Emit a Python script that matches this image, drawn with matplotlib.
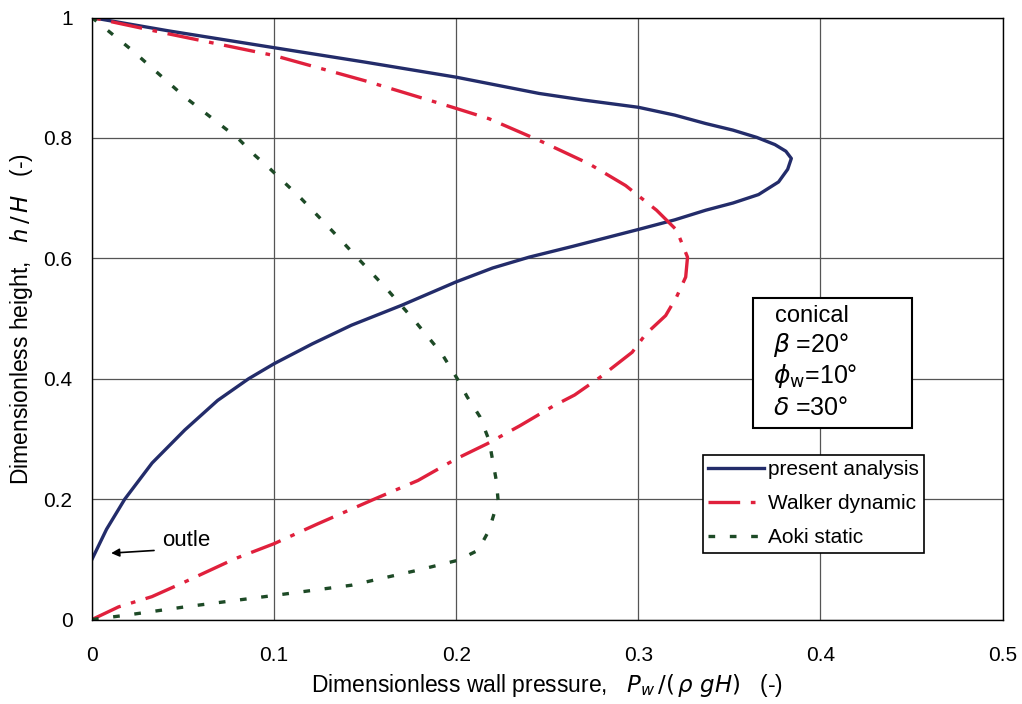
import matplotlib
matplotlib.use("Agg")
import matplotlib.pyplot as plt
from matplotlib.patches import Rectangle

plt.rcParams["font.family"] = ["Liberation Sans", "DejaVu Sans"]
plt.rcParams["mathtext.fontset"] = "dejavusans"

# present analysis (bottom -> top)
present_x = [0.0, 0.008, 0.018, 0.033, 0.051, 0.069, 0.086, 0.100, 0.121, 0.1425,
             0.170, 0.200, 0.220, 0.240, 0.264, 0.300, 0.320, 0.337, 0.352, 0.366,
             0.377, 0.382, 0.384, 0.381, 0.375, 0.365, 0.352, 0.337, 0.320, 0.300,
             0.270, 0.2455, 0.200, 0.150, 0.100, 0.042, 0.0]
present_y = [0.10, 0.15, 0.20, 0.26, 0.315, 0.364, 0.400, 0.425, 0.458, 0.489,
             0.522, 0.561, 0.584, 0.602, 0.620, 0.648, 0.664, 0.680, 0.692, 0.706,
             0.727, 0.748, 0.766, 0.778, 0.789, 0.801, 0.813, 0.824, 0.838, 0.851,
             0.863, 0.874, 0.901, 0.926, 0.950, 0.978, 1.0]

# Walker dynamic
walker_x = [0.0, 0.0146, 0.0329, 0.051, 0.0785, 0.100, 0.124, 0.155, 0.179, 0.200,
            0.217, 0.235, 0.2535, 0.265, 0.279, 0.2966, 0.304, 0.315, 0.321, 0.326,
            0.327, 0.321, 0.310, 0.293, 0.273, 0.2455, 0.218, 0.198, 0.150, 0.100,
            0.042, 0.0]
walker_y = [0.0, 0.021, 0.038, 0.0625, 0.101, 0.126, 0.159, 0.200, 0.231, 0.267,
            0.292, 0.322, 0.355, 0.373, 0.4025, 0.444, 0.474, 0.505, 0.536, 0.569,
            0.602, 0.647, 0.680, 0.721, 0.757, 0.796, 0.832, 0.851, 0.895, 0.937,
            0.973, 1.0]

# Aoki static
aoki_x = [0.0, 0.0183, 0.051, 0.100, 0.1425, 0.179, 0.201, 0.212, 0.218, 0.223,
          0.222, 0.218, 0.213, 0.206, 0.201, 0.192, 0.177, 0.1625, 0.147, 0.1315,
          0.115, 0.0977, 0.0895, 0.0803, 0.051, 0.0219, 0.0]
aoki_y = [0.0, 0.007, 0.021, 0.040, 0.057, 0.082, 0.0985, 0.115, 0.148, 0.198,
          0.231, 0.298, 0.337, 0.370, 0.398, 0.442, 0.497, 0.547, 0.597, 0.647,
          0.699, 0.749, 0.771, 0.799, 0.868, 0.946, 1.0]

x_ticks = [0, 0.1, 0.2, 0.3, 0.4, 0.5]
x_labels = ["0", "0.1", "0.2", "0.3", "0.4", "0.5"]
y_ticks = [0, 0.2, 0.4, 0.6, 0.8, 1.0]
y_labels = ["0", "0.2", "0.4", "0.6", "0.8", "1"]

fig = plt.figure(figsize=(10.22, 7.04), dpi=100)
ax = fig.add_axes([0.090, 0.120, 0.891, 0.855])

ax.plot(present_x, present_y, color="#232c6a", lw=2.4, label="present analysis",
        solid_joinstyle="round")
ax.plot(walker_x, walker_y, color="#e0203c", lw=2.4, dashes=(9.5, 3.2, 1.4, 3.2),
        label="Walker dynamic")
ax.plot(aoki_x, aoki_y, color="#1d4a26", lw=2.4, dashes=(2.0, 4.4),
        label="Aoki static")

ax.set_xlim(0, 0.5)
ax.set_ylim(0, 1)
ax.set_xticks(x_ticks)
ax.set_xticklabels(x_labels)
ax.set_yticks(y_ticks)
ax.set_yticklabels(y_labels)
ax.tick_params(length=0, labelsize=15)
ax.tick_params(axis="x", pad=19)
ax.tick_params(axis="y", pad=14)
ax.grid(True, color="#555555", lw=0.9)
ax.set_axisbelow(True)
for sp in ax.spines.values():
    sp.set_linewidth(1.0)

ax.set_xlabel(r"Dimensionless wall pressure,   $P_w\,/(\,\rho\ gH)$   (-)",
              fontsize=16.5, labelpad=5)
ax.set_ylabel(r"Dimensionless height,   $h\,/\,H$   (-)", fontsize=16.5, labelpad=6)

# outlet annotation
ax.annotate("", xy=(0.009, 0.11), xytext=(0.0356, 0.115),
            arrowprops=dict(arrowstyle="-|>", color="black", lw=1.2,
                            mutation_scale=12))
ax.text(0.0386, 0.132, "outle", fontsize=16, va="center", ha="left")

# condition box
ax.add_patch(Rectangle((0.726, 0.318), 0.175, 0.216, transform=ax.transAxes,
                       facecolor="white", edgecolor="black", lw=1.5, zorder=4))
ax.text(0.750, 0.505, "conical", transform=ax.transAxes, fontsize=17,
        va="center", zorder=5)
ax.text(0.748, 0.456, r"$\beta$ =20°", transform=ax.transAxes, fontsize=18,
        va="center", zorder=5)
ax.text(0.748, 0.405, r"$\phi_{\rm w}$=10°", transform=ax.transAxes, fontsize=18,
        va="center", zorder=5)
ax.text(0.748, 0.352, r"$\delta$ =30°", transform=ax.transAxes, fontsize=18,
        va="center", zorder=5)

leg = ax.legend(loc="upper left", bbox_to_anchor=(0.671, 0.273), fontsize=15,
                frameon=True, fancybox=False, framealpha=1, edgecolor="black",
                handlelength=2.7, handletextpad=0.15, borderpad=0.25,
                labelspacing=0.72, borderaxespad=0)
leg.get_frame().set_linewidth(1.2)

fig.savefig("out.png", dpi=100)
